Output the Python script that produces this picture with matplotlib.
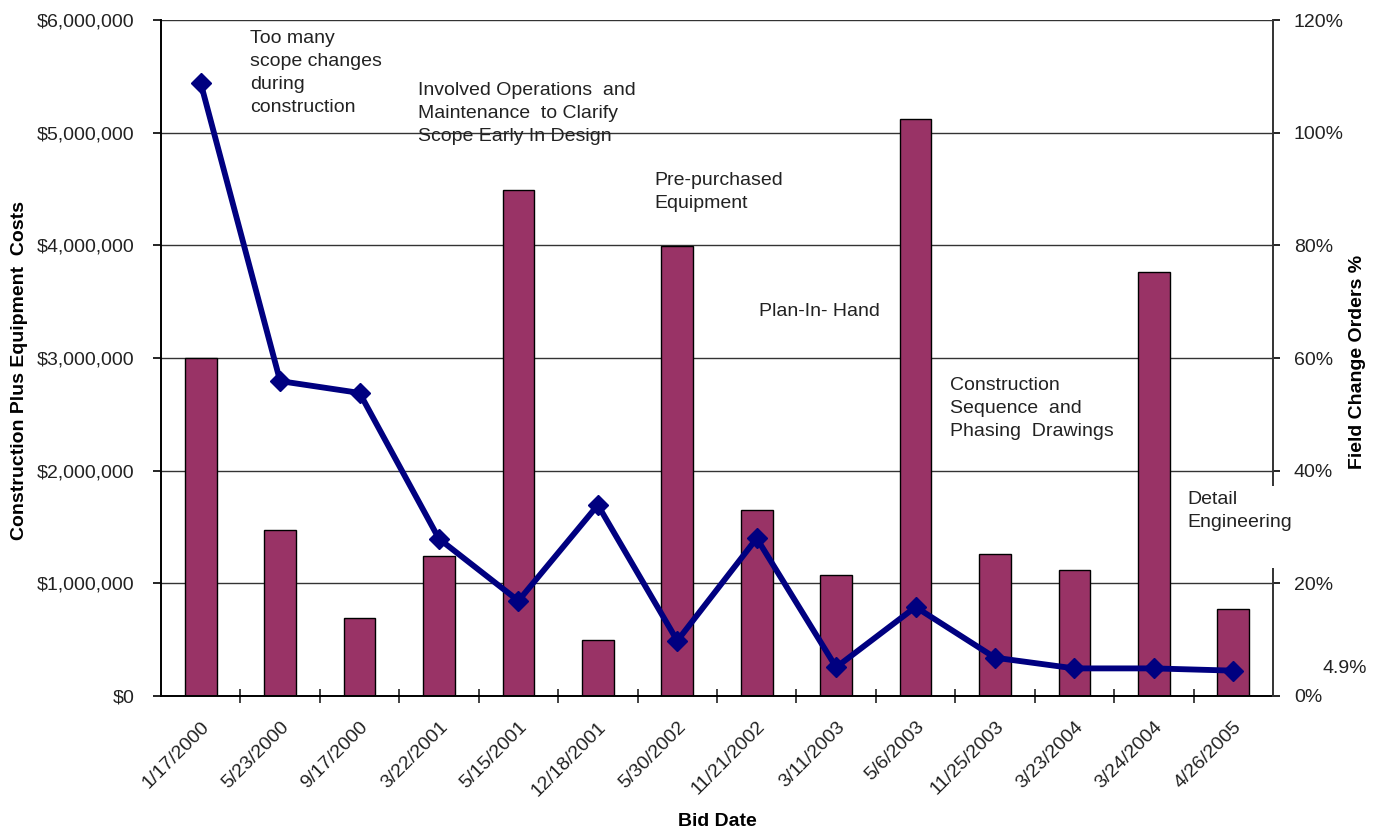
import matplotlib.pyplot as plt
from matplotlib.patches import Rectangle
from matplotlib.ticker import FuncFormatter, MultipleLocator, FixedLocator

plt.rcParams['font.family'] = ['Liberation Sans', 'DejaVu Sans']

# bid dates and values
bid_dates = ['1/17/2000', '5/23/2000', '9/17/2000', '3/22/2001', '5/15/2001',
             '12/18/2001', '5/30/2002', '11/21/2002', '3/11/2003', '5/6/2003',
             '11/25/2003', '3/23/2004', '3/24/2004', '4/26/2005']
costs = [3000000, 1475000, 690000, 1240000, 4490000,
         495000, 3990000, 1650000, 1070000, 5120000,
         1260000, 1120000, 3760000, 770000]
change_orders = [108.8, 55.9, 53.8, 27.9, 16.9,
                 33.9, 9.8, 28.0, 5.1, 15.8,
                 6.8, 4.9, 4.9, 4.5]

notes = [
    ("Too many\nscope changes\nduring\nconstruction", 0.62, 5911000),
    ("Involved Operations  and\nMaintenance  to Clarify\nScope Early In Design", 2.736, 5450000),
    ("Pre-purchased\nEquipment", 5.706, 4650000),
    ("Plan-In- Hand", 7.028, 3488000),
    ("Construction\nSequence  and\nPhasing  Drawings", 9.433, 2831000),
]

bar_color = '#993366'
line_color = '#000080'
text_color = '#222222'

fig = plt.figure(figsize=(13.73, 8.34), dpi=100)
ax = fig.add_axes([161 / 1373, 138 / 834, 1112 / 1373, 676 / 834])
x = list(range(len(bid_dates)))

ax.bar(x, costs, width=0.40, color=bar_color, edgecolor='black', linewidth=1.0, zorder=2)

ax.set_xlim(-0.5, len(bid_dates) - 0.5)
ax.set_ylim(0, 6000000)
ax.yaxis.set_major_locator(MultipleLocator(1000000))
ax.yaxis.set_major_formatter(FuncFormatter(lambda v, p: f"${v:,.0f}"))
ax.grid(axis='y', color='#333333', linewidth=1.0, zorder=0)
ax.set_axisbelow(True)

ax.set_xticks(x)
ax.set_xticklabels(bid_dates, rotation=45, ha='right', rotation_mode='anchor')
ax.xaxis.set_minor_locator(FixedLocator([i - 0.5 for i in range(1, len(bid_dates))]))
ax.tick_params(axis='x', which='major', length=0, pad=16, labelsize=14, labelcolor=text_color)
ax.tick_params(axis='x', which='minor', direction='inout', length=10, width=1.2, color='#222222')
ax.tick_params(axis='y', direction='out', length=6, width=1.2, pad=13, labelsize=14, labelcolor=text_color)

for side in ['top', 'right']:
    ax.spines[side].set_visible(False)
ax.spines['left'].set_linewidth(1.4)
ax.spines['bottom'].set_linewidth(1.4)

for txt, tx, ty in notes:
    ax.text(tx, ty, txt, fontsize=14, color=text_color, ha='left', va='top', linespacing=1.45)

# right axis: field change orders
ax2 = ax.twinx()
ax2.plot(x, change_orders, color=line_color, linewidth=4.2, marker='D', markersize=10, zorder=5)
ax2.set_ylim(0, 120)
ax2.yaxis.set_major_locator(MultipleLocator(20))
ax2.yaxis.set_major_formatter(FuncFormatter(lambda v, p: f"{v:.0f}%"))
ax2.tick_params(axis='y', direction='out', length=5, width=1.2, pad=10, labelsize=14, labelcolor=text_color)
for side in ['top', 'left', 'bottom']:
    ax2.spines[side].set_visible(False)
ax2.spines['right'].set_linewidth(1.4)
ax2.spines['right'].set_color('#333333')

# white text box for "Detail Engineering" hides part of the right axis
ax2.add_patch(Rectangle((12.3, 22.7), 1.55, 14.6, facecolor='white', edgecolor='none',
                        clip_on=False, zorder=6))
ax2.text(12.417, 36.4, "Detail\nEngineering", fontsize=14, color=text_color,
         ha='left', va='top', linespacing=1.45, zorder=7, clip_on=False)
ax2.text(14.117, 4.97, "4.9%", fontsize=14, color=text_color, ha='left', va='center',
         clip_on=False)

fig.text(20 / 1373, 1 - 371 / 834, "Construction Plus Equipment  Costs", rotation=90,
         fontsize=14, fontweight='bold', ha='center', va='center')
fig.text(1358 / 1373, 1 - 362 / 834, "Field Change Orders %", rotation=90,
         fontsize=14, fontweight='bold', ha='center', va='center')
fig.text(717 / 1373, 1 - 821 / 834, "Bid Date", fontsize=14, fontweight='bold',
         ha='center', va='center')

fig.savefig('out.png', dpi=100)
plt.close(fig)
